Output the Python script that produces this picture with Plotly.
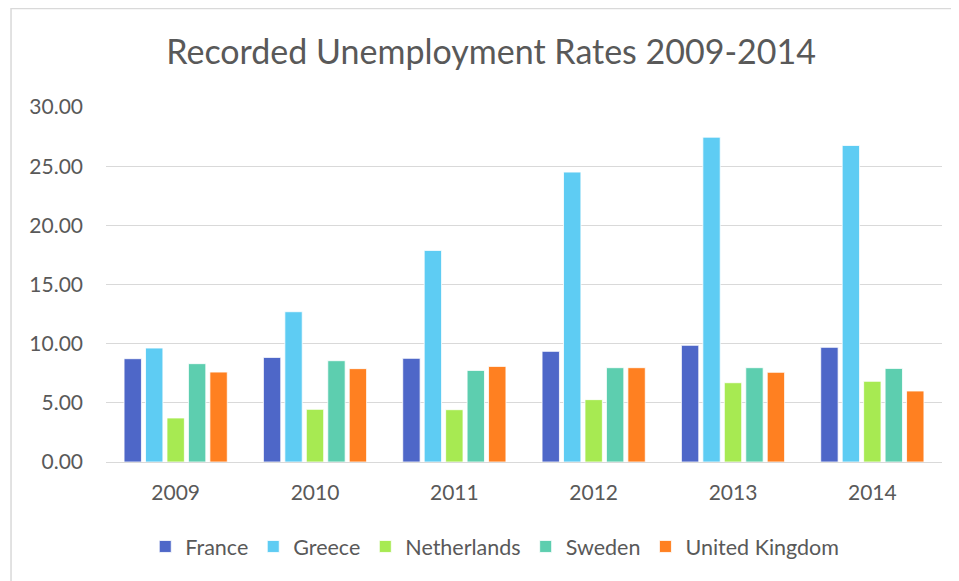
import plotly.graph_objects as go

years = ["2009", "2010", "2011", "2012", "2013", "2014"]
france = [8.73, 8.84, 8.76, 9.35, 9.86, 9.69]
greece = [9.63, 12.70, 17.88, 24.50, 27.45, 26.75]
netherlands = [3.72, 4.45, 4.42, 5.27, 6.70, 6.82]
sweden = [8.31, 8.56, 7.74, 7.97, 7.97, 7.91]
uk = [7.60, 7.89, 8.08, 7.97, 7.58, 6.00]

series = [
    ("France", france, "#4E67C8"),
    ("Greece", greece, "#5ECCF3"),
    ("Netherlands", netherlands, "#A7EA52"),
    ("Sweden", sweden, "#5DCEAF"),
    ("United Kingdom", uk, "#FF8021"),
]

FONT = "Lato"
GREY = "#595959"

fig = go.Figure()
for name, vals, col in series:
    fig.add_trace(go.Bar(
        name=name, x=years, y=vals,
        marker=dict(color=col, line=dict(color="white", width=0.8)),
    ))

fig.update_layout(
    width=951, height=573,
    paper_bgcolor="white", plot_bgcolor="white",
    margin=dict(l=98, r=17, t=99, b=119),
    barmode="group", bargap=0.23, bargroupgap=0.19,
    font=dict(family=FONT, color=GREY, size=21),
    title=dict(text="Recorded Unemployment Rates 2009-2014",
               x=0.508, xref="container", xanchor="center",
               y=1 - 44 / 573, yref="container", yanchor="middle",
               font=dict(family=FONT, size=34, color=GREY)),
    legend=dict(orientation="h", x=0.465, xanchor="center",
                y=-0.238, yanchor="middle",
                font=dict(family=FONT, size=21.5, color=GREY),
                traceorder="normal"),
    xaxis=dict(showgrid=False, showline=False, ticks="",
               ticklabelstandoff=16,
               tickfont=dict(size=21, color=GREY)),
    yaxis=dict(range=[0, 30], dtick=5, tickformat=".2f",
               showgrid=True, gridcolor="#D9D9D9", gridwidth=1.2,
               zeroline=True, zerolinecolor="#D9D9D9", zerolinewidth=1.2,
               showline=False, ticks="", ticklabelstandoff=22,
               tickfont=dict(size=21, color=GREY)),
    shapes=[dict(type="rect", xref="paper", yref="paper",
                 x0=-0.1136, x1=1.05, y0=-0.4, y1=1.2774,
                 line=dict(color="#D9D9D9", width=1.5),
                 fillcolor="rgba(0,0,0,0)", layer="below")],
)

fig.write_html("out.html")
